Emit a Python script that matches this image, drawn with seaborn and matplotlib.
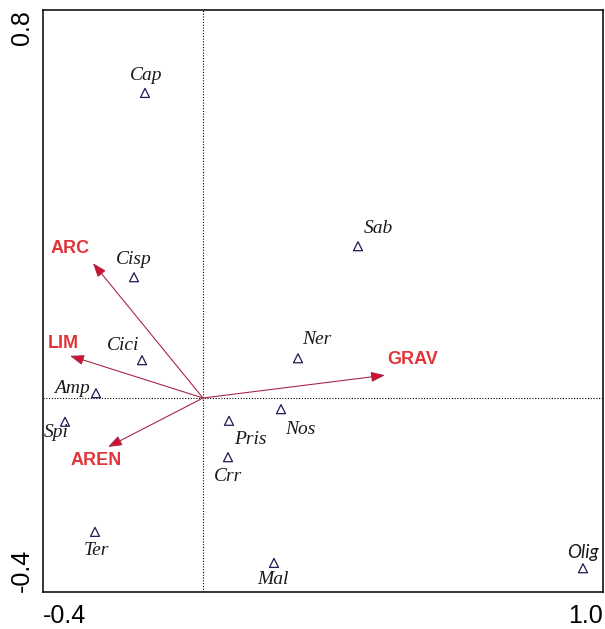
import matplotlib
matplotlib.use("Agg")
import matplotlib.pyplot as plt
import seaborn as sns
import pandas as pd

# ---- data ----
species = ["Cap", "Cisp", "Cici", "Amp", "Spi", "Pris", "Crr", "Nos", "Ner", "Sab", "Ter", "Mal", "Olig"]
sp_x = [-0.145, -0.1725, -0.1525, -0.2675, -0.345, 0.065, 0.0625, 0.195, 0.2375, 0.3875, -0.27, 0.1775, 0.95]
sp_y = [0.629, 0.249, 0.078, 0.010, -0.049, -0.047, -0.122, -0.023, 0.082, 0.313, -0.276, -0.340, -0.351]

env = ["ARC", "LIM", "AREN", "GRAV"]
env_x = [-0.275, -0.3325, -0.2375, 0.455]
env_y = [0.278, 0.087, -0.101, 0.047]

xticks = [-0.4, -0.2, 0.0, 0.2, 0.4, 0.6, 0.8, 1.0]
xtick_labels = ["-0.4", "", "", "", "", "", "", "1.0"]
yticks = [-0.4, -0.2, 0.0, 0.2, 0.4, 0.6, 0.8]
ytick_labels = ["-0.4", "", "", "", "", "", "0.8"]

# ---- label placement (pixels offsets, styling only) ----
sp_off = {"Cap": (1, 17), "Cisp": (0, 18), "Cici": (-19, 15), "Amp": (-24, 5),
          "Spi": (-9, -11), "Pris": (21, -19), "Crr": (0, -19), "Nos": (19, -20),
          "Ner": (19, 19), "Sab": (20, 18), "Ter": (1, -19), "Mal": (-1, -17),
          "Olig": (0, 16)}
env_off = {"ARC": (-23, 15), "LIM": (-7, 12), "AREN": (-12, -14), "GRAV": (28, 16)}

sns.set_style("white")
plt.rcParams["font.family"] = ["Liberation Sans", "DejaVu Sans"]

fig = plt.figure(figsize=(6.05, 6.29), dpi=100)
ax = fig.add_axes([43 / 605, 1 - 592 / 629, 560 / 605, 582 / 629])

df = pd.DataFrame({"species": species, "x": sp_x, "y": sp_y})

ax.axvline(0, color="black", lw=0.8, ls=(0, (1, 1.5)), zorder=1)
ax.axhline(0, color="black", lw=0.8, ls=(0, (1, 1.5)), zorder=1)

sns.scatterplot(data=df, x="x", y="y", ax=ax, marker="^", s=42,
                facecolor="none", edgecolor="#1c1c55", linewidth=0.9, zorder=3)

for name, x, y in zip(species, sp_x, sp_y):
    dx, dy = sp_off[name]
    if name == "Olig":
        fp = dict(family="Lato", style="italic", fontsize=13.5)
    else:
        fp = dict(family="Liberation Serif", style="italic", fontsize=14)
    ax.annotate(name, (x, y), xytext=(dx, dy), textcoords="offset pixels",
                ha="center", va="center", color="#1a1a1a", **fp)

for name, x, y in zip(env, env_x, env_y):
    ax.annotate("", xy=(x, y), xytext=(0, 0),
                arrowprops=dict(arrowstyle="-|>,head_length=0.6,head_width=0.22",
                                edgecolor="#a8284a", lw=0.8, shrinkA=0, shrinkB=0,
                                mutation_scale=14, facecolor="#d0102e"),
                zorder=4)
    dx, dy = env_off[name]
    ax.annotate(name, (x, y), xytext=(dx, dy), textcoords="offset pixels",
                ha="center", va="center", color="#e0353a",
                fontsize=13, fontweight="bold", family="Liberation Sans")

ax.set_xlim(-0.4, 1.0)
ax.set_ylim(-0.4, 0.8)
ax.set_xticks(xticks)
ax.set_xticklabels(xtick_labels)
ax.set_yticks(yticks)
ax.set_yticklabels(ytick_labels, rotation=90)
ax.set_xlabel("")
ax.set_ylabel("")
ax.tick_params(axis="both", direction="inout", length=5, width=1, color="black",
               labelsize=18, labelcolor="black")
ax.tick_params(axis="x", pad=6)
ax.tick_params(axis="y", pad=4)

xl = ax.get_xticklabels()
xl[0].set_ha("left")
xl[-1].set_ha("right")
yl = ax.get_yticklabels()
yl[0].set_va("bottom")
yl[-1].set_va("top")

for s in ax.spines.values():
    s.set_color("black")
    s.set_linewidth(1.1)
    s.set_visible(True)

fig.savefig("out.png", dpi=100)
